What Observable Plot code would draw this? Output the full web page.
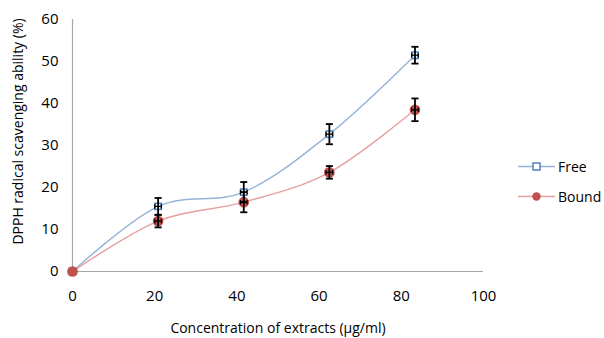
<!DOCTYPE html>
<html>
<head>
<meta charset="utf-8">
<script src="https://cdn.jsdelivr.net/npm/d3@7"></script>
<script src="https://cdn.jsdelivr.net/npm/@observablehq/plot@0.6"></script>
<style>
  html, body { margin: 0; padding: 0; background: #fff; }
  #wrap { position: relative; width: 604px; height: 338px; font-family: "Open Sans", sans-serif; }
  #legend { position: absolute; left: 518px; top: 151px; font-size: 14px; color: #000; }
  #legend .row { display: flex; align-items: center; height: 30px; }
  #legend svg { margin-right: 3px; }
</style>
</head>
<body>
<div id="wrap">
  <div id="chart"></div>
  <div id="legend"></div>
</div>
<script>
// Concentration of extracts (µg/ml)
const concentration = [0, 20.83, 41.67, 62.5, 83.33];
// DPPH radical scavenging ability (%)
const freeValues = [0, 15.5, 18.9, 32.7, 51.5];
const boundValues = [0, 12.0, 16.5, 23.6, 38.5];
// Standard deviations
const freeErrors = [0, 2.0, 2.4, 2.4, 2.0];
const boundErrors = [0, 1.5, 2.4, 1.5, 2.7];
const concentrationErrors = [0, 0.8, 0.8, 0.8, 0.8];

const seriesNames = ["Free", "Bound"];
const xTicks = [0, 20, 40, 60, 80, 100];
const yTicks = [0, 10, 20, 30, 40, 50, 60];
const xTitle = "Concentration of extracts (μg/ml)";
const yTitle = "DPPH radical scavenging ability (%)";

const lineColors = {Free: "#95b3d7", Bound: "#e6a0a0"};
const markColors = {Free: "#4f81bd", Bound: "#c0504d"};

const rows = [];
concentration.forEach((c, i) => {
  rows.push({series: "Free", x: c, y: freeValues[i], err: freeErrors[i], xerr: concentrationErrors[i]});
  rows.push({series: "Bound", x: c, y: boundValues[i], err: boundErrors[i], xerr: concentrationErrors[i]});
});
const freeRows = rows.filter(d => d.series === "Free");
const boundRows = rows.filter(d => d.series === "Bound");

// horizontal cap drawn as a dot symbol
const capH = {draw(ctx, size) { const w = Math.sqrt(size) / 2; ctx.moveTo(-w, 0); ctx.lineTo(w, 0); }};
// vertical cap drawn as a dot symbol
const capV = {draw(ctx, size) { const w = Math.sqrt(size) / 2; ctx.moveTo(0, -w); ctx.lineTo(0, w); }};

const withErr = rows.filter(d => d.err > 0);
const withXErr = rows.filter(d => d.xerr > 0);

const chart = Plot.plot({
  width: 604,
  height: 338,
  marginLeft: 72,
  marginRight: 121,
  marginTop: 19,
  marginBottom: 67,
  style: {fontFamily: "Open Sans, sans-serif", fontSize: "15px", color: "#000", background: "#fff"},
  x: {domain: [0, 100], ticks: xTicks, tickSize: 0, tickPadding: 19, label: null},
  y: {domain: [0, 60], ticks: yTicks, tickSize: 0, tickPadding: 14, label: null},
  marks: [
    Plot.ruleY([0], {stroke: "#a6a6a6", strokeWidth: 1.2}),
    Plot.ruleX([0], {stroke: "#a6a6a6", strokeWidth: 1.2}),
    Plot.line(freeRows, {x: "x", y: "y", curve: "cardinal", stroke: lineColors.Free, strokeWidth: 1.4}),
    Plot.line(boundRows, {x: "x", y: "y", curve: "cardinal", stroke: lineColors.Bound, strokeWidth: 1.4}),
    Plot.dot(freeRows, {x: "x", y: "y", symbol: "square", r: 3.6, stroke: markColors.Free, strokeWidth: 1.5, fill: "#fff"}),
    Plot.dot(boundRows, {x: "x", y: "y", r: 4.6, fill: markColors.Bound, stroke: markColors.Bound}),
    // vertical error bars
    Plot.ruleX(withErr, {x: "x", y1: d => d.y - d.err, y2: d => d.y + d.err, stroke: "#000", strokeWidth: 1.8}),
    Plot.dot(withErr, {x: "x", y: d => d.y + d.err, symbol: capH, r: 4, stroke: "#000", strokeWidth: 1.8}),
    Plot.dot(withErr, {x: "x", y: d => d.y - d.err, symbol: capH, r: 4, stroke: "#000", strokeWidth: 1.8}),
    // horizontal error bars
    Plot.ruleY(withXErr, {y: "y", x1: d => d.x - d.xerr, x2: d => d.x + d.xerr, stroke: "#000", strokeWidth: 1.3}),
    Plot.dot(withXErr, {x: d => d.x - d.xerr, y: "y", symbol: capV, r: 2.6, stroke: "#000", strokeWidth: 1.3}),
    Plot.dot(withXErr, {x: d => d.x + d.xerr, y: "y", symbol: capV, r: 2.6, stroke: "#000", strokeWidth: 1.3}),
    // axis titles
    Plot.text([xTitle], {frameAnchor: "bottom", dy: 61, text: d => d, fontSize: 14, fill: "#000"}),
    Plot.text([yTitle], {frameAnchor: "left", textAnchor: "middle", dx: -54, dy: -14, rotate: -90, text: d => d, fontSize: 14, fill: "#000"})
  ]
});
document.getElementById("chart").appendChild(chart);

// legend: line with marker per series
const legend = document.getElementById("legend");
for (const name of seriesNames) {
  const row = document.createElement("div");
  row.className = "row";
  const marker = name === "Free"
    ? `<rect x="15" y="6" width="7" height="7" fill="#fff" stroke="${markColors.Free}" stroke-width="1.5"/>`
    : `<circle cx="18.5" cy="9.5" r="4.2" fill="${markColors.Bound}"/>`;
  row.innerHTML = `<svg width="37" height="19"><line x1="0" x2="37" y1="9.5" y2="9.5" stroke="${lineColors[name]}" stroke-width="1.4"/>${marker}</svg><span>${name}</span>`;
  legend.appendChild(row);
}
</script>
</body>
</html>
